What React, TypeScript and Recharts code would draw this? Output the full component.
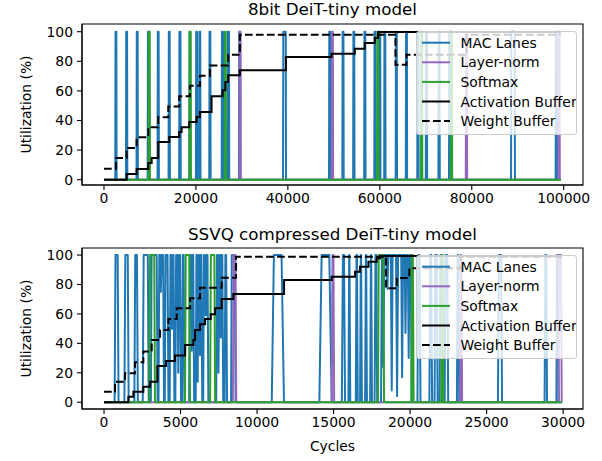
import React from 'react';
import { LineChart, Line, XAxis, YAxis, ReferenceArea } from 'recharts';

// ---------------- data ----------------
const TOP_X_TICKS = [0, 20000, 40000, 60000, 80000, 100000];
const BOTTOM_X_TICKS = [0, 5000, 10000, 15000, 20000, 25000, 30000];
const Y_TICKS = [0, 20, 40, 60, 80, 100];

const SERIES_NAMES = ['MAC Lanes', 'Layer-norm', 'Softmax', 'Activation Buffer', 'Weight Buffer'];

// top panel: 8bit DeiT-tiny model  (pulses = [start, end] of a 0->100->0 burst)
const topEnd = 99400;
const topMacPulses: [number, number][] = [
  [2450, 2750], [4780, 5080], [7080, 7380], [9500, 9900], [11650, 11950], [14050, 14350],
  [16350, 16700], [18550, 18850], [20000, 20300], [20700, 21000], [22900, 23200], [25600, 25950],
  [26900, 27250], [29350, 29700], [38950, 39600], [48950, 49300], [51850, 52150], [54200, 54500],
  [56600, 56900], [58800, 59100], [59850, 60150], [60950, 61250], [63450, 63750], [65650, 65950],
  [68150, 68450], [70000, 70300], [72750, 73050], [75050, 75500], [88550, 89400], [98250, 98550],
];
const topLayerNormPulses: [number, number][] = [[29450, 29750], [49550, 49850], [78700, 79000], [98850, 99150]];
const topSoftmaxPulses: [number, number][] = [
  [9700, 10000], [18600, 18900], [26250, 26550], [59400, 59700], [68950, 69250], [75450, 75750],
];
const topActivationSteps: [number, number][] = [
  [0, 0], [4930, 3.8], [7100, 7.2], [9640, 11.3], [10370, 14.6], [11800, 25.4], [14200, 28.8],
  [16370, 32.2], [16880, 35.4], [18550, 39], [20150, 42.4], [20870, 45.7], [23400, 56.3],
  [25800, 60.5], [26400, 66], [27000, 70.5], [29550, 73.9], [39570, 82.9], [49500, 85.1],
  [54570, 88.5], [56740, 92.3], [58910, 95.7], [59630, 99.8], [99400, 99.8],
];
const topWeightSteps: [number, number][] = [
  [0, 7.4], [2610, 14.6], [4930, 21.4], [7100, 28.6], [9640, 35.4], [11800, 42.1], [13990, 49.5],
  [16370, 56.3], [18700, 63.5], [20870, 70.3], [23040, 77.2], [27030, 84.5], [29570, 98],
  [63400, 77.7], [65800, 84.5], [78900, 98], [99400, 98],
];

// bottom panel: SSVQ compressed DeiT-tiny model
const bottomEnd = 29920;
const bottomMacPoints: [number, number][] = [
  [0, 0],
  [690, 0], [750, 100], [890, 100], [950, 0],
  [1330, 0], [1390, 100], [1550, 100], [1610, 0],
  [1980, 0], [2040, 100], [2150, 100], [2210, 0],
  [2530, 0], [2590, 100], [2860, 100], [2920, 0],
  [3060, 0], [3110, 100], [3440, 100], [3500, 0],
  [3560, 0], [3610, 100], [3660, 100], [3710, 75], [3760, 100], [3860, 100], [3920, 0],
  [3970, 0], [4020, 100], [4150, 100], [4210, 0],
  [4290, 0], [4340, 100], [4390, 100], [4440, 50], [4490, 100], [4540, 100], [4600, 0],
  [4660, 0], [4710, 100], [4800, 100], [4850, 20], [4900, 100], [4970, 100], [5030, 0],
  [5100, 0], [5150, 100], [5200, 100], [5260, 0],
  [5560, 0], [5610, 100], [5680, 100], [5730, 35], [5780, 100], [5830, 100], [5890, 0],
  [5990, 0], [6040, 100], [6070, 100], [6120, 14], [6170, 100], [6220, 100], [6270, 32], [6320, 100], [6360, 100], [6420, 0],
  [6480, 0], [6530, 100], [6600, 100], [6650, 59], [6700, 100], [6760, 100], [6820, 0],
  [7330, 0], [7380, 100], [7430, 100], [7480, 20], [7530, 100], [7580, 100], [7630, 44], [7680, 100], [7730, 100], [7790, 0],
  [7880, 0], [7930, 100], [7980, 100], [8040, 0],
  [8300, 0], [8350, 100], [8540, 100], [8600, 0],
  [10960, 0], [11100, 100], [11600, 100], [11760, 0],
  [14070, 0], [14220, 100], [14720, 100], [14880, 0],
  [15540, 0], [15610, 100], [15680, 100], [15750, 0],
  [15970, 0], [16020, 100], [16040, 100], [16090, 0],
  [16450, 0], [16500, 100], [16530, 100], [16580, 0],
  [16730, 0], [16780, 100], [16800, 100], [16850, 0],
  [17060, 0], [17110, 100], [17130, 100], [17180, 0],
  [17390, 0], [17440, 100], [17460, 100], [17510, 0],
  [17680, 0], [17740, 100], [17790, 100], [17850, 0],
  [18100, 0], [18160, 100], [18200, 100], [18250, 24], [18320, 100], [18460, 100], [18520, 77], [18580, 100],
  [18740, 100], [18800, 8], [18860, 100], [19080, 100], [19150, 4], [19220, 100], [19420, 100], [19480, 17],
  [19540, 100], [19640, 100], [19700, 47], [19760, 100], [19850, 100], [19910, 30], [19970, 100], [20050, 100], [20110, 0],
  [20480, 0], [20540, 100], [20620, 100], [20680, 0],
  [21260, 0], [21320, 100], [21380, 100], [21440, 0],
  [21600, 0], [21650, 100], [21740, 100], [21800, 0],
  [21930, 0], [21980, 100], [22050, 100], [22110, 0],
  [22260, 0], [22310, 100], [22430, 100], [22490, 0],
  [23060, 0], [23110, 100], [23160, 100], [23210, 0],
  [25740, 0], [25800, 100], [25950, 100], [26010, 0],
  [28790, 0], [28840, 100], [28900, 100], [28950, 0],
  [29560, 0], [29610, 100], [29660, 100], [29720, 0],
  [29920, 0],
];
const bottomLayerNormPulses: [number, number][] = [[8420, 8640], [14880, 15040], [23270, 23400], [29680, 29910]];
const bottomSoftmaxPulses: [number, number][] = [
  [2960, 3330], [5290, 5620], [6930, 7260], [17900, 18300], [20080, 20230], [22040, 22180],
];
const bottomActivationSteps: [number, number][] = [
  [0, 0], [1590, 3.8], [1917, 7.2], [2570, 10.6], [3007, 14], [3486, 24.6], [4052, 28], [4640, 31.7],
  [5294, 38.9], [5840, 42.3], [5948, 49], [6275, 53], [6601, 56.5], [6972, 59.7], [7255, 63.8],
  [7690, 70.1], [8453, 73.5], [11765, 83], [14880, 85.3], [16405, 88.7], [16730, 92], [17280, 95.4],
  [17820, 97.8], [18040, 99.3], [29920, 99.3],
];
const bottomWeightSteps: [number, number][] = [
  [0, 7.2], [719, 14], [1373, 19.7], [2026, 27.2], [2570, 34.4], [3115, 42.3], [3660, 49], [4205, 56.5],
  [4750, 63.8], [5621, 70.6], [6275, 77.8], [7690, 84.6], [8627, 98.9], [18430, 77.4], [19130, 84.5],
  [19950, 91], [23300, 98.9], [29920, 98.9],
];

// ---------------- helpers ----------------
type Pt = { x: number; y: number };
const pulsesToPoints = (pulses: [number, number][], end: number, ramp: number): Pt[] => {
  const pts: Pt[] = [{ x: 0, y: 0 }];
  pulses.forEach(([s, e]) => {
    pts.push({ x: s, y: 0 }, { x: s + ramp, y: 100 }, { x: e - ramp, y: 100 }, { x: e, y: 0 });
  });
  pts.push({ x: end, y: 0 });
  return pts;
};
const pairsToPoints = (pairs: [number, number][]): Pt[] => pairs.map(([x, y]) => ({ x, y }));

const COLORS = ['#1f77b4', '#9467bd', '#2ca02c', '#000000', '#000000'];
const FONT = 'DejaVu Sans, Verdana, sans-serif';

type PanelProps = {
  top: number;
  xDomain: [number, number];
  yDomain: [number, number];
  xTicks: number[];
  mac: Pt[];
  ln: Pt[];
  sm: Pt[];
  act: Pt[];
  wt: Pt[];
};

const Panel = ({ top, xDomain, yDomain, xTicks, mac, ln, sm, act, wt }: PanelProps) => {
  const tickStyle = { fill: '#000', fontSize: 13.9, fontFamily: FONT };
  return (
    <div style={{ position: 'absolute', left: 0, top, width: 602, height: 230 }}>
      <LineChart width={602} height={230} margin={{ top: 24, right: 19, bottom: 15, left: 0 }}>
        <XAxis
          type="number"
          dataKey="x"
          domain={xDomain}
          allowDataOverflow
          ticks={xTicks}
          interval={0}
          height={30}
          tickSize={5}
          tickMargin={3}
          tick={tickStyle}
          axisLine={{ stroke: '#000', strokeWidth: 1.1 }}
          tickLine={{ stroke: '#000', strokeWidth: 1.1 }}
        />
        <YAxis
          type="number"
          domain={yDomain}
          allowDataOverflow
          ticks={Y_TICKS}
          interval={0}
          width={82}
          tickSize={5}
          tickMargin={4}
          tick={tickStyle}
          axisLine={{ stroke: '#000', strokeWidth: 1.1 }}
          tickLine={{ stroke: '#000', strokeWidth: 1.1 }}
        />
        <ReferenceArea
          x1={xDomain[0]}
          x2={xDomain[1]}
          y1={yDomain[0]}
          y2={yDomain[1]}
          fill="none"
          fillOpacity={0}
          stroke="#000"
          strokeWidth={1.1}
          ifOverflow="visible"
        />
        <Line data={mac} dataKey="y" type="linear" stroke={COLORS[0]} strokeWidth={2} dot={false} activeDot={false} isAnimationActive={false} strokeLinejoin="round" />
        <Line data={ln} dataKey="y" type="linear" stroke={COLORS[1]} strokeWidth={2} dot={false} activeDot={false} isAnimationActive={false} strokeLinejoin="round" />
        <Line data={sm} dataKey="y" type="linear" stroke={COLORS[2]} strokeWidth={2} dot={false} activeDot={false} isAnimationActive={false} strokeLinejoin="round" />
        <Line data={act} dataKey="y" type="stepAfter" stroke={COLORS[3]} strokeWidth={2} dot={false} activeDot={false} isAnimationActive={false} />
        <Line data={wt} dataKey="y" type="stepAfter" stroke={COLORS[4]} strokeWidth={2} strokeDasharray="7.7 3.3" dot={false} activeDot={false} isAnimationActive={false} />
      </LineChart>
    </div>
  );
};

const LegendBox = ({ left, top }: { left: number; top: number }) => (
  <div
    style={{
      position: 'absolute',
      left,
      top,
      width: 161,
      height: 104,
      boxSizing: 'border-box',
      background: 'rgba(255,255,255,0.8)',
      border: '1px solid #cccccc',
      borderRadius: 3,
    }}
  >
    <svg width={159} height={102} style={{ position: 'absolute', left: 0, top: 0 }}>
      {SERIES_NAMES.map((name, i) => {
        const cy = 10.7 + 19.6 * i;
        return (
          <g key={name}>
            <line
              x1={5}
              x2={33}
              y1={cy}
              y2={cy}
              stroke={COLORS[i]}
              strokeWidth={2}
              strokeDasharray={i === 4 ? '7.7 3.3' : undefined}
            />
            <text x={43.5} y={cy + 5} fontSize={13.9} fontFamily={FONT} fill="#000">
              {name}
            </text>
          </g>
        );
      })}
    </svg>
  </div>
);

export default function App() {
  const topData = {
    mac: pulsesToPoints(topMacPulses, topEnd, 60),
    ln: pulsesToPoints(topLayerNormPulses, topEnd, 60),
    sm: pulsesToPoints(topSoftmaxPulses, topEnd, 60),
    act: pairsToPoints(topActivationSteps),
    wt: pairsToPoints(topWeightSteps),
  };
  const bottomData = {
    mac: pairsToPoints(bottomMacPoints),
    ln: pulsesToPoints(bottomLayerNormPulses, bottomEnd, 50),
    sm: pulsesToPoints(bottomSoftmaxPulses, bottomEnd, 50),
    act: pairsToPoints(bottomActivationSteps),
    wt: pairsToPoints(bottomWeightSteps),
  };
  return (
    <div style={{ position: 'absolute', left: 0, top: 0, width: 602, height: 461, background: '#fff', overflow: 'hidden' }}>
      <svg width={602} height={461} style={{ position: 'absolute', left: 0, top: 0 }}>
        <text x={332.5} y={15} textAnchor="middle" fontSize={16.7} fontFamily={FONT} fill="#000">
          8bit DeiT-tiny model
        </text>
        <text x={332.5} y={239.5} textAnchor="middle" fontSize={16.7} fontFamily={FONT} fill="#000">
          SSVQ compressed DeiT-tiny model
        </text>
        <text x={332.5} y={451} textAnchor="middle" fontSize={13.9} fontFamily={FONT} fill="#000">
          Cycles
        </text>
        <text x={31} y={104.5} textAnchor="middle" fontSize={13.9} fontFamily={FONT} fill="#000" transform="rotate(-90 31 104.5)">
          Utilization (%)
        </text>
        <text x={31} y={328.5} textAnchor="middle" fontSize={13.9} fontFamily={FONT} fill="#000" transform="rotate(-90 31 328.5)">
          Utilization (%)
        </text>
      </svg>
      <Panel top={0} xDomain={[-4780, 104200]} yDomain={[-3.6, 105.2]} xTicks={TOP_X_TICKS} {...topData} />
      <Panel top={224} xDomain={[-1440, 31300]} yDomain={[-4.6, 104.8]} xTicks={BOTTOM_X_TICKS} {...bottomData} />
      <LegendBox left={416} top={31} />
      <LegendBox left={416} top={255} />
    </div>
  );
}
